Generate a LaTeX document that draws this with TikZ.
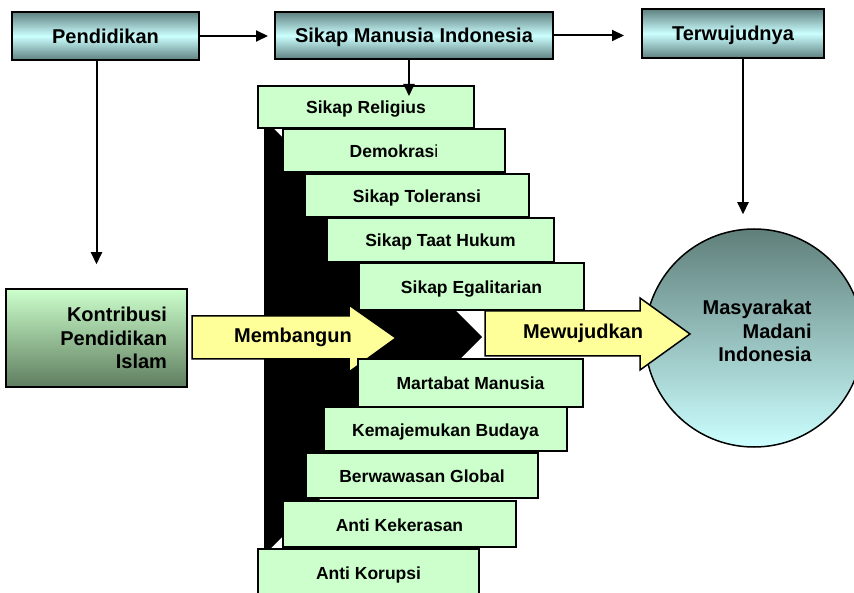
\documentclass[tikz,border=0pt]{standalone}
\usepackage{fontspec}
\setmainfont{Liberation Sans}
\usepackage{xcolor}
\usepackage{tikz}
\usetikzlibrary{arrows.meta}

\definecolor{stairgreen}{RGB}{204,255,204}
\definecolor{boxlight}{RGB}{204,255,255}
\definecolor{boxdark}{RGB}{95,128,128}
\definecolor{circdark}{RGB}{95,127,122}
\definecolor{kontrdark}{RGB}{95,125,95}
\definecolor{arrowyellow}{RGB}{255,255,153}

\begin{document}
\begin{tikzpicture}[thick, x=1pt, y=-1pt]
\tikzstyle{every node} = [inner sep=0pt, font=\bfseries\fontsize{20}{23.5}\selectfont]
\tikzstyle{oneline} = [text height=15.5pt, text depth=1pt]
\tikzstyle{topbox} = [draw, line width=2pt, top color=boxdark, bottom color=boxdark, middle color=boxlight, oneline]
\tikzstyle{stair} = [draw, line width=2pt, fill=stairgreen, text height=15pt, text depth=1pt,
	font=\bfseries\fontsize{17.5}{21}\selectfont]
\tikzstyle{arr} = [-{Triangle[length=12pt,width=11pt]}, line width=2pt]
\tikzstyle{yarrow} = [draw, line width=1.5pt, fill=arrowyellow]

\useasboundingbox (0,0) rectangle (854,593);
\clip (0,0) rectangle (854,593);
\fill[white] (0,0) rectangle (854,593);

% black backing
\fill (264,128) -- (273,128) -- (482,337) -- (271,548) -- (264,548) -- cycle;

\node[circle, draw, line width=1.5pt, minimum size=218pt, top color=circdark, bottom color=boxlight] (masy) at (754,338) {};

% yellow arrows
\draw[yarrow] (192,316) -- (349,316) -- (349,305) -- (396,338) -- (349,372) -- (349,359) -- (192,359) -- cycle;
\node[oneline] (memb) at (293,334.8) {Membangun};
\draw[yarrow] (485,311) -- (640,311) -- (640,298) -- (690,334) -- (640,370) -- (640,356) -- (485,356) -- cycle;
\node[oneline] (mewuj) at (583,331) {Mewujudkan};

\node[stair, minimum width=216pt, minimum height=42pt] (s1) at (366,107) {Sikap Religius};
\node[stair, minimum width=222pt, minimum height=43pt] (s2) at (394,150.5) {Demokras{\mdseries i}};
\node[stair, minimum width=224pt, minimum height=43pt] (s3) at (417,195.5) {Sikap Toleransi};
\node[stair, minimum width=227pt, minimum height=44pt] (s4) at (440.5,240) {Sikap Taat Hukum};
\node[stair, minimum width=225pt, minimum height=47pt] (s5) at (471.5,286.5) {Sikap Egalitarian};
\node[stair, minimum width=225pt, minimum height=48pt] (s6) at (470.5,383) {Martabat Manusia};
\node[stair, minimum width=243pt, minimum height=44pt] (s7) at (445.5,429) {Kemajemukan Budaya};
\node[stair, minimum width=232pt, minimum height=45pt] (s8) at (422,475.5) {Berwawasan Global};
\node[stair, minimum width=233pt, minimum height=46pt] (s9) at (399.5,524) {Anti Kekerasan};
\node[stair, minimum width=221pt, minimum height=46pt] (s10) at (368.5,572) {Anti Korupsi};

\node[topbox, minimum width=187pt, minimum height=48pt] (pend) at (105.5,36) {Pendidikan};
\node[topbox, minimum width=278pt, minimum height=47pt] (sikap) at (414,35.5) {Sikap Manusia Indonesia};
\node[topbox, minimum width=182pt, minimum height=49pt] (terw) at (733,33.5) {Terwujudnya};

\node[draw, line width=1.5pt, top color=stairgreen, bottom color=kontrdark, minimum width=181pt, minimum height=98pt,
	text width=141pt, inner xsep=20pt, align=right] (kontr) at (96.5,338) {Kontribusi\\Pendidikan\\Islam};

\node[align=right, anchor=east] (masytxt) at (812,331) {Masyarakat\\Madani\\Indonesia};

\draw[arr, shorten >=6pt] (pend) -- (pend -| sikap.west);
\draw[arr, shorten >=17pt] (sikap.east) -- (sikap.east -| terw.west);
\draw[arr, shorten >=24pt] (pend.south -| kontr.north) -- (kontr.north);
\draw[arr, shorten >=-11pt] ([xshift=-5pt]sikap.south) -- ([xshift=-5pt]sikap.south |- s1.north);
\draw[arr, shorten >=14pt] ([xshift=10pt]terw.south) -- ([xshift=10pt]terw.south |- masy.north);
\end{tikzpicture}
\end{document}
